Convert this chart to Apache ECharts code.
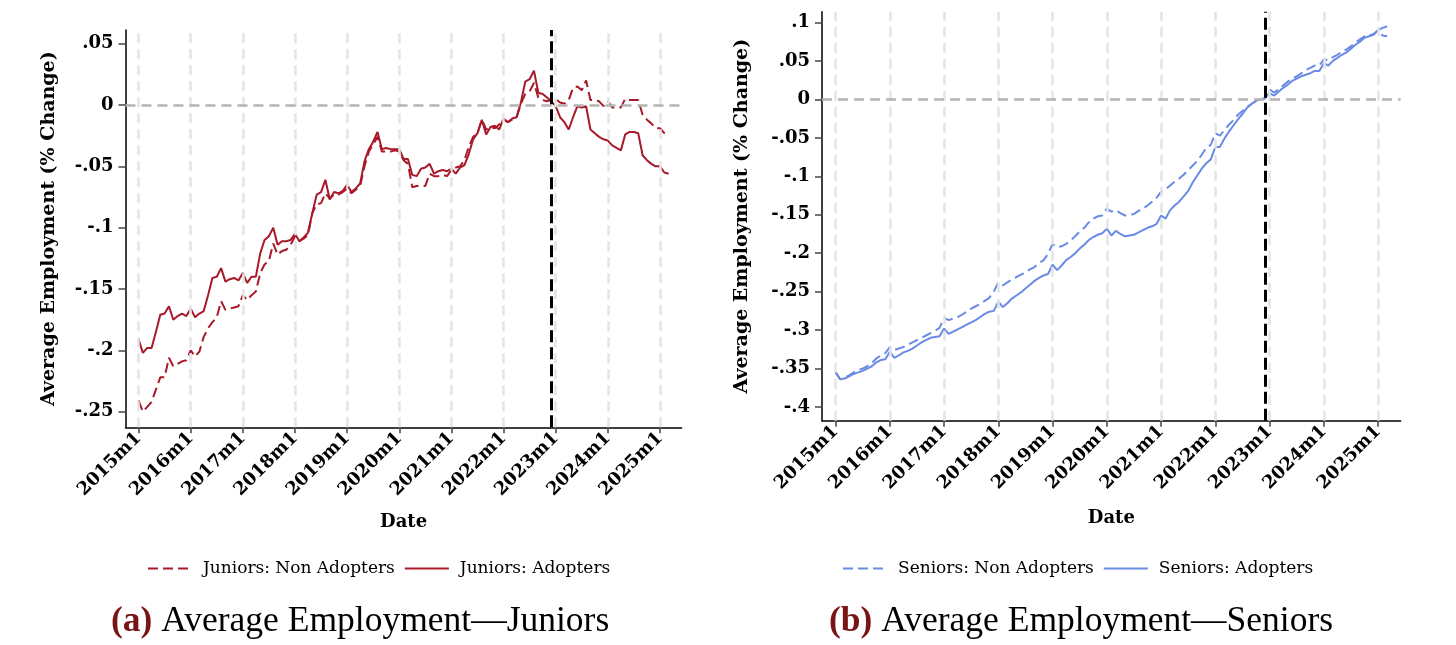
<!DOCTYPE html>
<html><head><meta charset="utf-8">
<script src="https://cdn.jsdelivr.net/npm/echarts@6/dist/echarts.min.js"></script>
<style>html,body{margin:0;padding:0;background:#fff}#c{width:1456px;height:645px}</style>
</head><body><div id="c"></div><script>
// month index 0 = 2015m1
const tickMonths = [0,12,24,36,48,60,72,84,96,108,120];
const tickLabels = ['2015m1','2016m1','2017m1','2018m1','2019m1','2020m1','2021m1','2022m1','2023m1','2024m1','2025m1'];
const treatmentMonth = 95; // 2022m12
const juniorsYTicks = [-0.25,-0.2,-0.15,-0.1,-0.05,0,0.05];
const seniorsYTicks = [-0.4,-0.35,-0.3,-0.25,-0.2,-0.15,-0.1,-0.05,0,0.05,0.1];

const juniorsNonAdopters = [-0.241,-0.250,-0.246,-0.242,-0.232,-0.222,-0.222,-0.206,-0.213,-0.211,-0.209,-0.208,
 -0.200,-0.205,-0.201,-0.189,-0.182,-0.177,-0.173,-0.160,-0.167,-0.166,-0.165,-0.164,
 -0.155,-0.159,-0.155,-0.152,-0.137,-0.130,-0.127,-0.113,-0.122,-0.119,-0.118,-0.114,
 -0.107,-0.111,-0.109,-0.106,-0.088,-0.081,-0.080,-0.072,-0.076,-0.073,-0.073,-0.071,
 -0.068,-0.072,-0.069,-0.066,-0.050,-0.038,-0.032,-0.026,-0.038,-0.038,-0.038,-0.037,
 -0.038,-0.045,-0.048,-0.067,-0.066,-0.066,-0.066,-0.056,-0.058,-0.058,-0.057,-0.058,
 -0.053,-0.051,-0.050,-0.045,-0.034,-0.026,-0.023,-0.012,-0.020,-0.018,-0.019,-0.016,
 -0.012,-0.014,-0.012,-0.010,0.001,0.009,0.011,0.018,0.006,0.004,0.003,0.004,
 0.005,0.002,0.001,0.004,0.014,0.015,0.012,0.020,0.004,0.004,0.003,-0.001,
 0.003,-0.002,-0.002,-0.002,0.005,0.004,0.004,0.004,-0.008,-0.012,-0.015,-0.019,
 -0.019,-0.023,-0.025];
const juniorsAdopters = [-0.191,-0.202,-0.198,-0.198,-0.185,-0.171,-0.170,-0.164,-0.175,-0.172,-0.170,-0.172,
 -0.166,-0.173,-0.170,-0.168,-0.155,-0.141,-0.140,-0.133,-0.144,-0.142,-0.141,-0.143,
 -0.137,-0.145,-0.140,-0.140,-0.121,-0.110,-0.107,-0.100,-0.114,-0.111,-0.111,-0.110,
 -0.105,-0.111,-0.108,-0.104,-0.088,-0.073,-0.071,-0.061,-0.077,-0.071,-0.072,-0.070,
 -0.065,-0.071,-0.068,-0.064,-0.046,-0.036,-0.030,-0.022,-0.036,-0.035,-0.036,-0.036,
 -0.036,-0.044,-0.044,-0.057,-0.058,-0.052,-0.051,-0.048,-0.056,-0.054,-0.053,-0.054,
 -0.052,-0.056,-0.051,-0.049,-0.040,-0.028,-0.023,-0.012,-0.024,-0.018,-0.017,-0.020,
 -0.011,-0.014,-0.011,-0.010,0.002,0.019,0.021,0.028,0.010,0.009,0.006,0.003,
 -0.001,-0.010,-0.014,-0.020,-0.010,-0.001,-0.002,-0.001,-0.020,-0.023,-0.026,-0.028,
 -0.029,-0.033,-0.035,-0.037,-0.024,-0.022,-0.022,-0.023,-0.041,-0.045,-0.048,-0.050,
 -0.050,-0.055,-0.056];
const seniorsNonAdopters = [-0.355,-0.364,-0.362,-0.359,-0.355,-0.352,-0.350,-0.347,-0.343,-0.337,-0.333,-0.330,
 -0.322,-0.326,-0.324,-0.322,-0.319,-0.316,-0.313,-0.310,-0.307,-0.304,-0.301,-0.297,
 -0.284,-0.287,-0.285,-0.283,-0.280,-0.276,-0.272,-0.269,-0.266,-0.262,-0.258,-0.250,
 -0.238,-0.242,-0.238,-0.234,-0.231,-0.228,-0.225,-0.221,-0.218,-0.213,-0.209,-0.201,
 -0.188,-0.192,-0.191,-0.188,-0.183,-0.178,-0.172,-0.167,-0.160,-0.155,-0.152,-0.151,
 -0.142,-0.146,-0.144,-0.148,-0.151,-0.150,-0.149,-0.145,-0.142,-0.138,-0.133,-0.128,
 -0.120,-0.117,-0.112,-0.107,-0.103,-0.098,-0.092,-0.086,-0.080,-0.072,-0.063,-0.059,
 -0.044,-0.047,-0.040,-0.033,-0.027,-0.020,-0.015,-0.010,-0.006,-0.002,0.000,0.001,
 0.013,0.009,0.013,0.018,0.023,0.027,0.030,0.034,0.038,0.041,0.044,0.044,
 0.052,0.051,0.055,0.058,0.062,0.065,0.069,0.074,0.078,0.082,0.083,0.085,
 0.090,0.083,0.082];
const seniorsAdopters = [-0.354,-0.364,-0.363,-0.360,-0.357,-0.355,-0.353,-0.350,-0.347,-0.342,-0.339,-0.338,
 -0.328,-0.336,-0.333,-0.329,-0.327,-0.324,-0.320,-0.316,-0.313,-0.310,-0.309,-0.308,
 -0.298,-0.305,-0.302,-0.299,-0.296,-0.293,-0.290,-0.287,-0.283,-0.279,-0.276,-0.275,
 -0.263,-0.270,-0.265,-0.259,-0.255,-0.251,-0.246,-0.241,-0.236,-0.232,-0.229,-0.227,
 -0.215,-0.222,-0.216,-0.209,-0.205,-0.200,-0.194,-0.189,-0.183,-0.179,-0.176,-0.174,
 -0.168,-0.177,-0.171,-0.175,-0.178,-0.177,-0.176,-0.173,-0.170,-0.167,-0.165,-0.162,
 -0.151,-0.155,-0.144,-0.138,-0.133,-0.126,-0.119,-0.108,-0.099,-0.090,-0.083,-0.078,
 -0.062,-0.062,-0.051,-0.042,-0.034,-0.026,-0.019,-0.011,-0.006,-0.002,0.000,0.002,
 0.008,0.005,0.010,0.015,0.019,0.024,0.027,0.030,0.032,0.034,0.037,0.037,
 0.047,0.044,0.050,0.054,0.058,0.061,0.066,0.071,0.075,0.080,0.082,0.084,
 0.090,0.093,0.095];

const RED = '#a8192a', BLUE = '#6a8ae4';
const TICKFONT = 'DejaVu Serif';
const pairs = arr => arr.map((v, i) => [i, v]);
const fmtY = v => { const r = Math.round(v * 100) / 100; if (r === 0) return '0'; return (r < 0 ? '-' : '') + String(Math.abs(r)).replace(/^0/, ''); };
const fmtX = v => { const i = tickMonths.indexOf(Math.round(v)); return i >= 0 ? tickLabels[i] : ''; };

function xAxis(gi, gap) {
  return { type: 'value', gridIndex: gi, min: -3, max: 125,
    axisLine: { show: true, onZero: false, lineStyle: { color: '#000', width: 1.5 } },
    axisTick: { show: true, customValues: tickMonths, length: 6, lineStyle: { color: '#444', width: 1.5 } },
    axisLabel: { customValues: tickMonths, rotate: 45, formatter: fmtX, fontFamily: TICKFONT, fontWeight: 'bold', fontSize: 18, color: '#000', margin: 8 },
    splitLine: { show: false },
    name: 'Date', nameLocation: 'middle', nameGap: gap,
    nameTextStyle: { fontFamily: TICKFONT, fontWeight: 'bold', fontSize: 18, color: '#000' } };
}
function yAxis(gi, mn, mx, ticks, gap) {
  return { type: 'value', gridIndex: gi, min: mn, max: mx,
    axisLine: { show: true, onZero: false, lineStyle: { color: '#000', width: 1.5 } },
    axisTick: { show: true, customValues: ticks, length: 7, lineStyle: { color: '#444', width: 1.5 } },
    axisLabel: { customValues: ticks, formatter: fmtY, fontFamily: TICKFONT, fontWeight: 'bold', fontSize: 18, color: '#000', margin: 12 },
    splitLine: { show: false },
    name: 'Average Employment (% Change)', nameLocation: 'middle', nameGap: gap, nameRotate: 90,
    nameTextStyle: { fontFamily: TICKFONT, fontWeight: 'bold', fontSize: 19, color: '#000' } };
}
function guides(gi) {
  const data = tickMonths.map(m => ({ xAxis: m, lineStyle: { color: '#e4e4e4', width: 2.5, type: [10, 6] } }));
  data.push({ yAxis: 0, lineStyle: { color: '#b4b4b4', width: 2.5, type: [10, 6] } });
  return { type: 'line', xAxisIndex: gi, yAxisIndex: gi, data: [], z: 1, silent: true,
    markLine: { silent: true, symbol: ['none', 'none'], label: { show: false }, animation: false, data: data } };
}
function treat(gi) {
  return { type: 'line', xAxisIndex: gi, yAxisIndex: gi, data: [], z: 5, silent: true,
    markLine: { silent: true, symbol: ['none', 'none'], label: { show: false }, animation: false,
      data: [{ xAxis: treatmentMonth, lineStyle: { color: '#000', width: 3, type: [12, 5] } }] } };
}
function line(name, gi, arr, color, dashed) {
  return { type: 'line', name: name, xAxisIndex: gi, yAxisIndex: gi, data: pairs(arr), symbol: 'none', z: 3,
    lineStyle: { color: color, width: 2, type: dashed ? [10, 5] : 'solid' }, itemStyle: { color: color } };
}
function legend(names, left) {
  return { data: names, left: left, top: 555, itemWidth: 44, itemHeight: 14, itemGap: 9, selectedMode: false,
    itemStyle: { opacity: 0, borderWidth: 0 },
    textStyle: { fontFamily: 'DejaVu Serif', fontSize: 17, color: '#000', padding: [0, 0, 0, 6] } };
}

const chart = echarts.init(document.getElementById('c'), null, { renderer: 'canvas' });
chart.setOption({
  animation: false,
  backgroundColor: '#fff',
  title: [
    { text: '{a|(a)} Average Employment—Juniors', left: 106, top: 599,
      textStyle: { fontFamily: 'Liberation Serif', fontSize: 35.5, fontWeight: 'normal', color: '#000',
        rich: { a: { fontFamily: 'Liberation Serif', fontSize: 35.5, fontWeight: 'bold', color: '#7a1515' } } } },
    { text: '{a|(b)} Average Employment—Seniors', left: 824, top: 599,
      textStyle: { fontFamily: 'Liberation Serif', fontSize: 35.5, fontWeight: 'normal', color: '#000',
        rich: { a: { fontFamily: 'Liberation Serif', fontSize: 35.5, fontWeight: 'bold', color: '#7a1515' } } } }
  ],
  legend: [
    legend(['Juniors: Non Adopters', 'Juniors: Adopters'], 142),
    legend(['Seniors: Non Adopters', 'Seniors: Adopters'], 837)
  ],
  grid: [
    { left: 125.5, right: 774.3, top: 30, bottom: 217.7 },
    { left: 822, right: 55.3, top: 11.7, bottom: 224.3 }
  ],
  xAxis: [xAxis(0, 86), xAxis(1, 89)],
  yAxis: [yAxis(0, -0.2627, 0.0611, juniorsYTicks, 67), yAxis(1, -0.4178, 0.1140, seniorsYTicks, 70)],
  series: [
    guides(0), guides(1),
    line('Juniors: Non Adopters', 0, juniorsNonAdopters, RED, true),
    line('Juniors: Adopters', 0, juniorsAdopters, RED, false),
    line('Seniors: Non Adopters', 1, seniorsNonAdopters, BLUE, true),
    line('Seniors: Adopters', 1, seniorsAdopters, BLUE, false),
    treat(0), treat(1)
  ]
});
</script></body></html>
